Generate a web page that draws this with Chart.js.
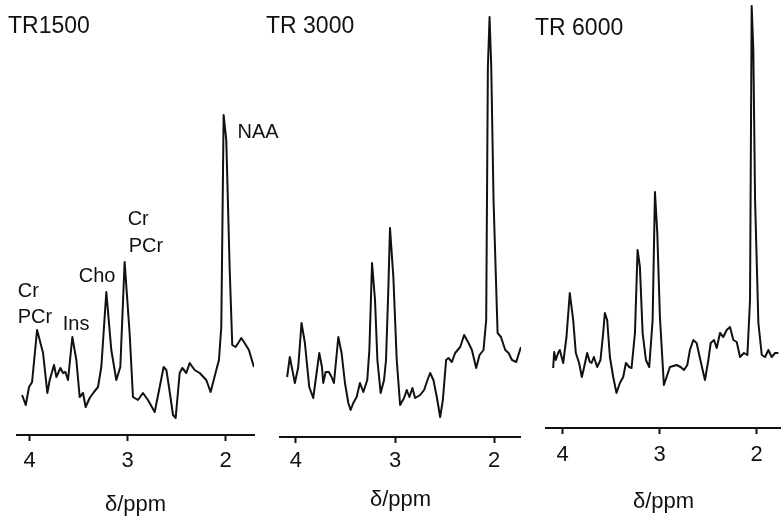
<!DOCTYPE html>
<html>
<head>
<meta charset="utf-8">
<script src="https://cdn.jsdelivr.net/npm/chart.js@4.4.1/dist/chart.umd.min.js"></script>
<style>
    html, body { margin: 0; padding: 0; background: #fff; }
    body { width: 781px; height: 528px; position: relative; overflow: hidden; }
    .panel { position: absolute; top: 0; height: 528px; }
</style>
</head>
<body>
<div class="panel" style="left:0;width:300px"><canvas id="tr1500"></canvas></div>
<div class="panel" style="left:258px;width:263px"><canvas id="tr3000"></canvas></div>
<div class="panel" style="left:523px;width:258px"><canvas id="tr6000"></canvas></div>
<script>
// Chemical shift ticks shown on every panel
const ppmTicks = [4, 3, 2];

// TR 1500 spectrum
const ppm1500 = [4.078, 4.041, 4.007, 3.976, 3.925, 3.864, 3.820, 3.796, 3.752, 3.728, 3.687, 3.660, 3.636, 3.609, 3.565, 3.524, 3.490, 3.456, 3.429, 3.388, 3.344, 3.303, 3.269, 3.218, 3.167, 3.116, 3.075, 3.031, 2.980, 2.946, 2.895, 2.844, 2.793, 2.724, 2.673, 2.633, 2.605, 2.578, 2.537, 2.510, 2.469, 2.442, 2.401, 2.367, 2.316, 2.265, 2.197, 2.153, 2.095, 2.068, 2.044, 2.020, 1.993, 1.959, 1.932, 1.898, 1.864, 1.840, 1.806, 1.762, 1.711];
const signal1500 = [40, 30, 48, 53, 105, 82, 42, 55, 70, 58, 67, 62, 63, 55, 98, 75, 38, 42, 28, 37, 43, 48, 68, 143, 85, 55, 68, 173, 102, 38, 35, 42, 35, 23, 48, 68, 65, 48, 20, 17, 62, 67, 62, 72, 65, 62, 55, 43, 65, 75, 108, 320, 295, 168, 90, 88, 93, 97, 92, 85, 68];

// TR 3000 spectrum
const ppm3000 = [4.088, 4.061, 4.010, 3.976, 3.943, 3.909, 3.865, 3.825, 3.791, 3.764, 3.737, 3.724, 3.700, 3.667, 3.640, 3.616, 3.572, 3.539, 3.505, 3.471, 3.448, 3.421, 3.387, 3.354, 3.320, 3.280, 3.259, 3.232, 3.202, 3.178, 3.145, 3.111, 3.091, 3.067, 3.051, 3.017, 2.983, 2.949, 2.909, 2.882, 2.855, 2.825, 2.798, 2.747, 2.707, 2.673, 2.646, 2.613, 2.579, 2.545, 2.518, 2.485, 2.461, 2.427, 2.394, 2.343, 2.303, 2.259, 2.225, 2.182, 2.148, 2.108, 2.081, 2.064, 2.047, 2.030, 2.007, 1.966, 1.932, 1.889, 1.855, 1.821, 1.778, 1.731];
const signal3000 = [60, 80, 54, 70, 114, 94, 50, 39, 64, 84, 70, 54, 65, 65, 60, 54, 100, 84, 54, 34, 27, 34, 40, 54, 45, 57, 87, 174, 137, 77, 44, 57, 77, 150, 209, 160, 77, 32, 39, 47, 40, 49, 39, 42, 47, 57, 64, 57, 40, 20, 37, 77, 79, 75, 84, 90, 102, 94, 87, 69, 82, 87, 117, 370, 420, 370, 237, 104, 100, 87, 84, 77, 75, 90];

// TR 6000 spectrum
const ppm6000 = [4.096, 4.086, 4.069, 4.045, 4.028, 3.993, 3.959, 3.925, 3.890, 3.863, 3.829, 3.801, 3.777, 3.746, 3.719, 3.701, 3.677, 3.643, 3.609, 3.581, 3.564, 3.540, 3.512, 3.478, 3.444, 3.409, 3.375, 3.347, 3.313, 3.289, 3.254, 3.227, 3.203, 3.175, 3.141, 3.107, 3.072, 3.048, 3.024, 2.997, 2.956, 2.928, 2.894, 2.825, 2.784, 2.749, 2.715, 2.688, 2.653, 2.619, 2.585, 2.557, 2.533, 2.498, 2.474, 2.440, 2.412, 2.378, 2.344, 2.309, 2.275, 2.241, 2.206, 2.172, 2.131, 2.096, 2.069, 2.052, 2.035, 2.017, 1.983, 1.948, 1.914, 1.880, 1.846, 1.811, 1.777];
const signal6000 = [60, 76, 68, 75, 78, 65, 91, 135, 108, 75, 65, 51, 61, 75, 66, 65, 71, 61, 68, 95, 115, 108, 71, 51, 35, 45, 51, 65, 61, 60, 95, 178, 161, 95, 68, 61, 108, 236, 195, 111, 43, 51, 61, 63, 61, 58, 63, 78, 88, 85, 70, 58, 48, 68, 85, 88, 80, 95, 91, 98, 101, 88, 86, 71, 75, 73, 128, 422, 378, 228, 105, 73, 71, 78, 71, 75, 75];

const FONT = '"Liberation Sans", Arial, sans-serif';
const INK = '#111';

// Draws the TR heading and the metabolite names
const labelsPlugin = {
    id: 'labels',
    afterDraw(chart, args, opts) {
        const ctx = chart.ctx;
        const x = chart.scales.x;
        const y = chart.scales.y;
        ctx.save();
        ctx.fillStyle = INK;
        ctx.textAlign = 'left';
        ctx.textBaseline = 'alphabetic';
        ctx.font = '23px ' + FONT;
        ctx.fillText(opts.heading, opts.headingX, opts.headingY);
        ctx.font = '20px ' + FONT;
        (opts.peaks || []).forEach(p => {
            ctx.fillText(p.text, x.getPixelForValue(p.ppm), y.getPixelForValue(p.level));
        });
        ctx.restore();
    }
};

function drawSpectrum(id, ppm, signal, cfg) {
    const ctx = document.getElementById(id).getContext('2d');
    return new Chart(ctx, {
        type: 'line',
        data: {
            datasets: [{
                data: ppm.map((p, i) => ({ x: p, y: signal[i] })),
                borderColor: INK,
                borderWidth: 2,
                pointRadius: 0,
                tension: 0,
                borderJoinStyle: 'round',
                fill: false
            }]
        },
        options: {
            responsive: true,
            maintainAspectRatio: false,
            animation: false,
            events: [],
            layout: { padding: { left: cfg.padLeft, right: cfg.padRight, top: 0, bottom: 0 } },
            plugins: {
                legend: { display: false },
                tooltip: { enabled: false },
                labels: cfg.labels
            },
            scales: {
                x: {
                    type: 'linear',
                    reverse: true,
                    min: cfg.min,
                    max: cfg.max,
                    afterBuildTicks: s => { s.ticks = ppmTicks.map(v => ({ value: v })); },
                    afterFit: s => { s.height = 528 - cfg.axisY; },
                    border: { display: true, color: INK, width: 2 },
                    grid: { drawOnChartArea: false, drawTicks: true, tickLength: 6, tickWidth: 2, tickColor: INK },
                    ticks: { color: INK, padding: cfg.tickPad, maxRotation: 0, font: { family: FONT, size: 22 } },
                    title: {
                        display: true,
                        text: 'δ/ppm',
                        color: INK,
                        font: { family: FONT, size: 22 },
                        padding: { top: 0, bottom: cfg.titlePad }
                    }
                },
                y: { display: false, min: 0, max: cfg.axisY }
            }
        },
        plugins: [labelsPlugin]
    });
}

drawSpectrum('tr1500', ppm1500, signal1500, {
    padLeft: 17, padRight: 46, min: 1.71, max: 4.13, axisY: 435, tickPad: 7, titlePad: 10,
    labels: {
        heading: 'TR1500', headingX: 8, headingY: 33,
        peaks: [
            { text: 'NAA', ppm: 1.878, level: 297 },
            { text: 'Cr', ppm: 3.0, level: 210 },
            { text: 'PCr', ppm: 2.99, level: 183 },
            { text: 'Cho', ppm: 3.5, level: 153 },
            { text: 'Cr', ppm: 4.122, level: 138 },
            { text: 'PCr', ppm: 4.122, level: 112 },
            { text: 'Ins', ppm: 3.663, level: 105 }
        ]
    }
});

drawSpectrum('tr3000', ppm3000, signal3000, {
    padLeft: 22, padRight: 0, min: 1.73, max: 4.16, axisY: 437, tickPad: 5, titlePad: 15,
    labels: { heading: 'TR 3000', headingX: 8, headingY: 33 }
});

drawSpectrum('tr6000', ppm6000, signal6000, {
    padLeft: 23, padRight: 0, min: 1.75, max: 4.17, axisY: 428, tickPad: 8, titlePad: 13,
    labels: { heading: 'TR 6000', headingX: 12, headingY: 35 }
});
</script>
</body>
</html>
